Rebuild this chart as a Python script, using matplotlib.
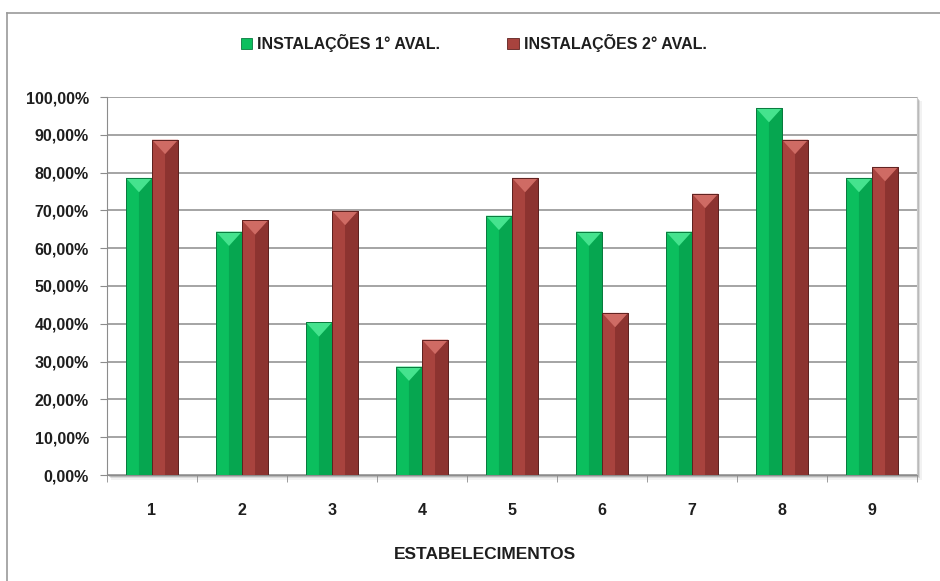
import numpy as np
import matplotlib
matplotlib.use("Agg")
import matplotlib.pyplot as plt
from matplotlib.patches import Polygon, Rectangle
from matplotlib.lines import Line2D
from matplotlib.ticker import FuncFormatter, FixedLocator

plt.rcParams['font.family'] = ['Liberation Sans', 'DejaVu Sans']

categories = ["1", "2", "3", "4", "5", "6", "7", "8", "9"]
aval1 = [78.6, 64.4, 40.4, 28.7, 68.6, 64.4, 64.4, 97.1, 78.6]
aval2 = [88.7, 67.4, 69.9, 35.8, 78.6, 42.9, 74.4, 88.7, 81.5]
series_names = ["INSTALAÇÕES 1° AVAL.", "INSTALAÇÕES 2° AVAL."]
xlabel = "ESTABELECIMENTOS"

# colours: main, darker right half, light top bevel, edge
green = ("#0BBF5E", "#06A650", "#45E38E", "#0A7A3E")
red = ("#A8433E", "#8C3330", "#CF6B64", "#5E2220")
text_col = "#1E1E1E"

fig = plt.figure(figsize=(9.4, 5.81), dpi=100)
ax = fig.add_axes([107/940, 1 - 475/581, 810/940, 378/581])

x = np.arange(len(categories))
w = 0.29
b1 = ax.bar(x - w/2, aval1, w, color=green[0], edgecolor=green[3], linewidth=0.6, zorder=3, label=series_names[0])
b2 = ax.bar(x + w/2, aval2, w, color=red[0], edgecolor=red[3], linewidth=0.6, zorder=3, label=series_names[1])

# fake bevel look
bevel = 3.8
for bars, cols in ((b1, green), (b2, red)):
    for p in bars:
        x0, bw, h = p.get_x(), p.get_width(), p.get_height()
        ax.add_patch(Polygon([(x0 + bw*0.5, h - bevel), (x0 + bw, h), (x0 + bw, 0), (x0 + bw*0.5, 0)],
                             closed=True, facecolor=cols[1], edgecolor="none", zorder=3.5))
        ax.add_patch(Polygon([(x0, h), (x0 + bw, h), (x0 + bw/2, h - bevel)],
                             closed=True, facecolor=cols[2], edgecolor="none", zorder=3.6))
        ax.add_patch(Rectangle((x0, 0), bw, h, facecolor="none", edgecolor=cols[3], linewidth=0.7, zorder=3.7))

ax.set_xlim(-0.5, len(categories) - 0.5)
ax.set_ylim(0, 100)
ax.set_yticks(np.arange(0, 101, 10))
ax.yaxis.set_major_formatter(FuncFormatter(lambda v, _: f"{v:.2f}".replace(".", ",") + "%"))
ax.yaxis.grid(True, color="#8C8C8C", linewidth=1.1, zorder=0)
ax.set_axisbelow(True)

ax.set_xticks(x)
ax.set_xticklabels(categories)
ax.xaxis.set_minor_locator(FixedLocator(np.arange(-0.5, len(categories), 1.0)))
ax.tick_params(axis="x", which="major", length=0, pad=20, labelsize=11.5, labelcolor=text_col)
ax.tick_params(axis="x", which="minor", length=5, color="#8C8C8C", direction="out")
ax.tick_params(axis="y", length=5, color="#8C8C8C", labelsize=11.5, labelcolor=text_col, pad=8)
for lab in ax.get_xticklabels() + ax.get_yticklabels():
    lab.set_fontweight("bold")

ax.spines["top"].set_visible(False)
ax.spines["left"].set_color("#8C8C8C")
ax.spines["bottom"].set_color("#8C8C8C")
ax.spines["right"].set_color("#C8C8C8")

ax.set_xlabel(xlabel, fontsize=12.5, fontweight="bold", color=text_col)
ax.xaxis.set_label_coords(0.467, -0.19)

# plot area shadow
pos = ax.get_position()
for k, a in enumerate((0.35, 0.2, 0.1)):
    dx = (k + 1) * 1.5 / 940
    dy = (k + 1) * 1.5 / 581
    fig.patches.append(Rectangle((pos.x0 + dx, pos.y0 - dy), pos.width, pos.height,
                                 transform=fig.transFigure, facecolor="#808080", alpha=a,
                                 edgecolor="none", zorder=-1))

# chart outer border
fig.add_artist(Line2D([7/940, 7/940], [0, 1 - 13/581], transform=fig.transFigure, color="#9A9A9A", linewidth=1.2))
fig.add_artist(Line2D([7/940, 1], [1 - 13/581, 1 - 13/581], transform=fig.transFigure, color="#9A9A9A", linewidth=1.2))

leg = fig.legend(handles=[b1, b2], labels=series_names, loc="center", bbox_to_anchor=(0.504, 1 - 43/581),
                 ncol=2, frameon=False, fontsize=11.5, handlelength=0.7, handleheight=0.7,
                 handletextpad=0.35, columnspacing=4.2)
for t in leg.get_texts():
    t.set_fontweight("bold")
    t.set_color(text_col)

fig.savefig("out.png", dpi=100)
